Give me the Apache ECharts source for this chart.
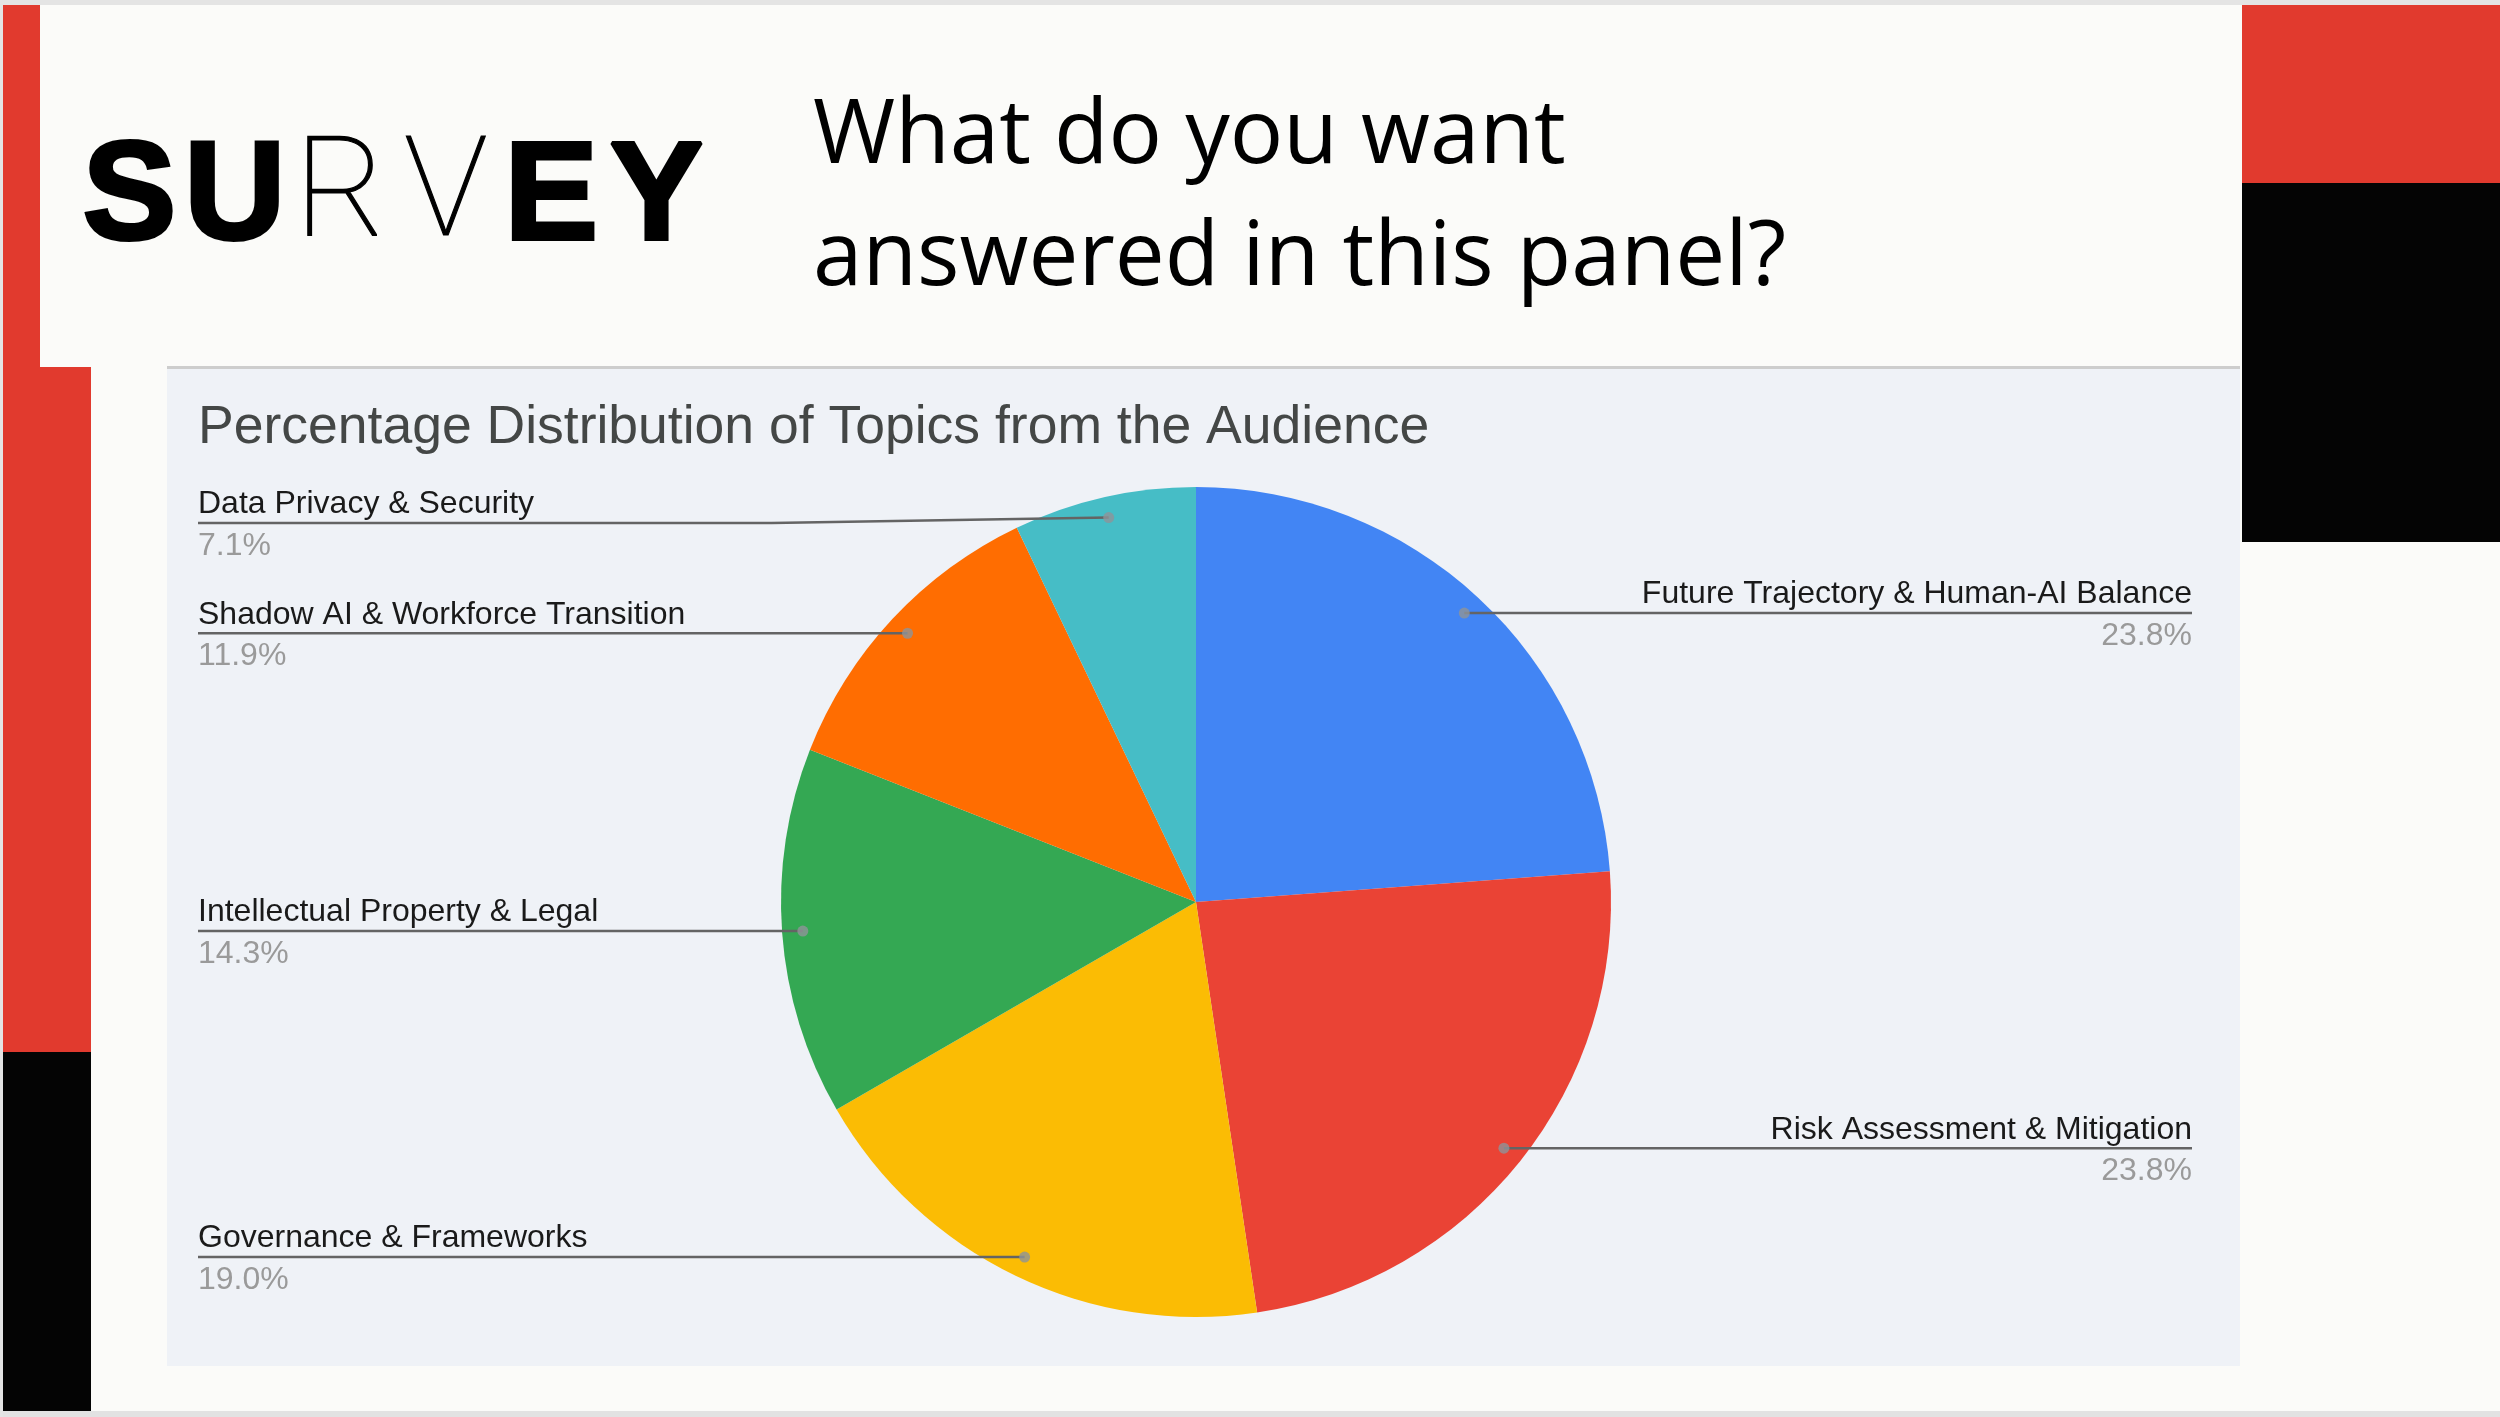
<!DOCTYPE html>
<html>
<head>
<meta charset="utf-8">
<script src="https://cdn.jsdelivr.net/npm/echarts@6/dist/echarts.min.js"></script>
<style>
html,body{margin:0;padding:0;background:#fbfbf9;}
#c{width:2500px;height:1417px;}
</style>
</head>
<body>
<div id="c"></div>
<script>
// ---- data ----
const categories = [
  'Future Trajectory & Human-AI Balance',
  'Risk Assessment & Mitigation',
  'Governance & Frameworks',
  'Intellectual Property & Legal',
  'Shadow AI & Workforce Transition',
  'Data Privacy & Security'
];
const percentages = [23.8, 23.8, 19.0, 14.3, 11.9, 7.1];
const sliceColors = ['#4285f4', '#ea4335', '#fbbc04', '#34a853', '#ff6d01', '#46bdc6'];
const chartTitle = 'Percentage Distribution of Topics from the Audience';
const headline = ['What do you want', 'answered in this panel?'];
const logoText = 'SURVEY';

// ---- layout constants ----
const PIE_C = [1196, 902];
const PIE_R = 415;
const DOT_F = 0.95;
const LEFT_X = 198;
const RIGHT_X = 2192;
const MIN_LABEL_Y = 523;   // labels keep clear of the chart title

const chart = echarts.init(document.getElementById('c'), null, {renderer: 'canvas', width: 2500, height: 1417});

const total = percentages.reduce((a, b) => a + b, 0);
let cum = 0;
const dotData = percentages.map(v => { const mid = cum + v / 2; cum += v; return [DOT_F, mid]; });

const heavy = {fontFamily: '"Liberation Sans", Arial, sans-serif', fontWeight: 'bold', fontSize: 140, width: 105.4, align: 'center', fill: '#000', stroke: '#000', lineWidth: 4};
const thin = {fontFamily: 'Roboto, Lato, Inter, sans-serif', fontWeight: 100, fontSize: 140, width: 105.4, align: 'center', fill: '#000', stroke: '#000', lineWidth: 1.2};
const logoStyles = ['h', 'h', 't', 't', 'h', 'h'];
const logoRich = logoText.split('').map((ch, i) => '{' + logoStyles[i] + '|' + ch + '}').join('');

const labelFont = '"Liberation Sans", Arial, sans-serif';
const pieData = categories.map((n, i) => ({name: n, value: percentages[i]}));

const option = {
  backgroundColor: '#fbfbf9',
  animation: false,
  title: {
    text: chartTitle,
    left: 198,
    top: 401,
    padding: 0,
    textStyle: {fontFamily: labelFont, fontSize: 53.5, fontWeight: 'normal', color: '#444746', lineHeight: 54}
  },
  graphic: {
    elements: [
      {type: 'rect', z: 0, shape: {x: 0, y: 0, width: 2500, height: 5}, style: {fill: '#e4e4e4'}},
      {type: 'rect', z: 0, shape: {x: 0, y: 1411, width: 2500, height: 6}, style: {fill: '#e2e2e2'}},
      {type: 'rect', z: 0, shape: {x: 0, y: 0, width: 3, height: 1417}, style: {fill: '#e4e4e4'}},
      {type: 'rect', z: 0, shape: {x: 3, y: 5, width: 37, height: 363}, style: {fill: '#e13a2e'}},
      {type: 'rect', z: 0, shape: {x: 3, y: 367, width: 88, height: 686}, style: {fill: '#e13a2e'}},
      {type: 'rect', z: 0, shape: {x: 3, y: 1052, width: 88, height: 359}, style: {fill: '#040404'}},
      {type: 'rect', z: 0, shape: {x: 2242, y: 5, width: 258, height: 178}, style: {fill: '#e13a2e'}},
      {type: 'rect', z: 0, shape: {x: 2242, y: 183, width: 258, height: 359}, style: {fill: '#040404'}},
      {type: 'rect', z: 0, shape: {x: 167, y: 369, width: 2073, height: 997}, style: {fill: '#eff2f7'}},
      {type: 'rect', z: 0, shape: {x: 167, y: 366, width: 2073, height: 3}, style: {fill: '#cdcdcd'}},
      {
        type: 'text', z: 1, x: 76.8, y: 200,
        style: {text: logoRich, rich: {h: heavy, t: thin}, align: 'left', verticalAlign: 'middle'}
      },
      {
        type: 'text', z: 1, x: 813, y: 77,
        style: {text: headline.join('\n'), fontFamily: '"Open Sans", sans-serif', fontSize: 89, lineHeight: 122, fill: '#000', align: 'left', verticalAlign: 'top'}
      }
    ]
  },
  polar: {center: PIE_C, radius: [0, PIE_R]},
  angleAxis: {type: 'value', min: 0, max: total, startAngle: 90, clockwise: true, show: false},
  radiusAxis: {type: 'value', min: 0, max: 1, show: false},
  series: [
    {
      type: 'pie',
      z: 2,
      center: PIE_C,
      radius: PIE_R,
      startAngle: 90,
      clockwise: true,
      silent: true,
      data: pieData.map((d, i) => ({name: d.name, value: d.value, itemStyle: {color: sliceColors[i]}})),
      itemStyle: {borderWidth: 0},
      label: {show: false},
      labelLine: {show: false}
    },
    {
      // same slices, transparent, carrying the labels and leader lines above the pie
      type: 'pie',
      z: 4,
      center: PIE_C,
      radius: PIE_R,
      startAngle: 90,
      clockwise: true,
      avoidLabelOverlap: false,
      silent: true,
      data: pieData,
      itemStyle: {color: 'rgba(0,0,0,0)', borderWidth: 0},
      label: {
        show: true,
        position: 'outside',
        formatter: p => '{n|' + p.name + '}\n{v|' + p.value.toFixed(1) + '%}',
        rich: {
          n: {fontFamily: labelFont, fontSize: 32, color: '#1a1a1a', lineHeight: 46},
          v: {fontFamily: labelFont, fontSize: 32, color: '#9a9a9a', lineHeight: 37}
        }
      },
      labelLine: {show: true, showAbove: true, length: 20, length2: 20, smooth: false, lineStyle: {color: '#646464', width: 2.5}},
      labelLayout: function (p) {
        const pts = p.labelLinePoints;
        if (!pts) return {};
        const ex = pts[0][0], ey = pts[0][1];
        const dx = PIE_C[0] + (ex - PIE_C[0]) * DOT_F;
        const dy = PIE_C[1] + (ey - PIE_C[1]) * DOT_F;
        const isLeft = ex < PIE_C[0];
        const edge = isLeft ? LEFT_X : RIGHT_X;
        const ly = Math.max(dy, MIN_LABEL_Y);
        const kx = dx + (edge - dx) * 0.37;
        return {
          x: edge,
          y: ly,
          align: isLeft ? 'left' : 'right',
          verticalAlign: 'middle',
          labelLinePoints: [[dx, dy], [kx, ly], [edge, ly]]
        };
      }
    },
    {
      type: 'scatter',
      coordinateSystem: 'polar',
      z: 6,
      silent: true,
      symbol: 'circle',
      symbolSize: 11,
      itemStyle: {color: '#8f9399'},
      data: dotData
    }
  ]
};
chart.setOption(option);
</script>
</body>
</html>
